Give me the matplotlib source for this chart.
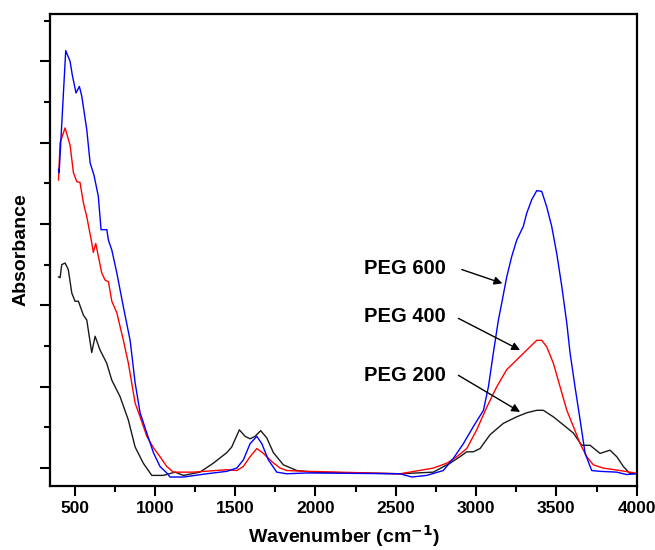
import matplotlib
matplotlib.use("Agg")
import matplotlib.pyplot as plt
from matplotlib.ticker import MultipleLocator

plt.rcParams['font.family'] = ['Liberation Sans', 'DejaVu Sans']

# PEG 200 (black)
x_peg200 = [400, 410, 420, 441, 461, 483, 503, 524, 555, 576, 607, 628, 659, 700, 732, 783,
            835, 877, 928, 981, 1053, 1126, 1178, 1281, 1364, 1448, 1479, 1526, 1562, 1593,
            1624, 1659, 1697, 1738, 1800, 1884, 1985, 2527, 2734, 2838, 2900, 2942, 2983,
            3025, 3087, 3170, 3253, 3316, 3378, 3419, 3481, 3544, 3606, 3658, 3710, 3772,
            3834, 3876, 3917, 3959, 3990]
y_peg200 = [2.35, 2.34, 2.50, 2.52, 2.44, 2.15, 2.05, 2.05, 1.88, 1.82, 1.42, 1.62, 1.45,
            1.29, 1.08, 0.88, 0.59, 0.26, 0.06, -0.09, -0.09, -0.05, -0.09, -0.05, 0.06,
            0.19, 0.26, 0.47, 0.39, 0.36, 0.39, 0.46, 0.37, 0.19, 0.04, -0.03, -0.05,
            -0.07, -0.05, 0.06, 0.14, 0.20, 0.20, 0.24, 0.41, 0.55, 0.63, 0.68, 0.71,
            0.71, 0.63, 0.53, 0.43, 0.28, 0.28, 0.18, 0.22, 0.14, 0.02, -0.07, -0.07]

# PEG 400 (red)
x_peg400 = [400, 410, 441, 472, 493, 514, 534, 555, 576, 607, 617, 632, 669, 690, 711, 732,
            763, 804, 835, 877, 908, 950, 991, 1032, 1074, 1115, 1240, 1448, 1510, 1551,
            1593, 1635, 1676, 1728, 1780, 1821, 1946, 2527, 2734, 2818, 2880, 2942, 3004,
            3067, 3129, 3191, 3274, 3336, 3378, 3409, 3440, 3481, 3523, 3565, 3606, 3648,
            3689, 3730, 3792, 3896, 3990]
y_peg400 = [3.54, 4.00, 4.18, 3.97, 3.63, 3.52, 3.51, 3.26, 3.09, 2.77, 2.65, 2.76, 2.40,
            2.31, 2.29, 2.05, 1.91, 1.57, 1.29, 0.80, 0.63, 0.39, 0.25, 0.14, 0.02, -0.05,
            -0.05, -0.02, -0.03, 0.02, 0.14, 0.24, 0.18, 0.08, 0.00, -0.03, -0.04, -0.07,
            0.00, 0.06, 0.14, 0.24, 0.47, 0.75, 1.00, 1.21, 1.37, 1.49, 1.57, 1.57, 1.49,
            1.29, 1.00, 0.71, 0.51, 0.30, 0.14, 0.04, 0.00, -0.03, -0.06]

# PEG 600 (blue)
x_peg600 = [400, 404, 445, 472, 486, 509, 530, 545, 576, 597, 621, 648, 665, 701, 711, 732,
            763, 804, 846, 877, 908, 950, 991, 1032, 1074, 1095, 1178, 1323, 1448, 1510,
            1551, 1593, 1635, 1666, 1707, 1759, 1821, 1946, 2527, 2600, 2693, 2796, 2859,
            2921, 2983, 3046, 3077, 3108, 3139, 3160, 3191, 3222, 3253, 3294, 3315, 3347,
            3378, 3409, 3440, 3471, 3502, 3534, 3565, 3585, 3616, 3648, 3679, 3720, 3772,
            3876, 3938, 3990]
y_peg600 = [3.67, 3.63, 5.13, 5.00, 4.83, 4.61, 4.69, 4.57, 4.16, 3.75, 3.60, 3.34, 2.93,
            2.93, 2.80, 2.68, 2.40, 1.98, 1.57, 1.05, 0.68, 0.43, 0.19, 0.02, -0.06, -0.11,
            -0.11, -0.07, -0.04, 0.00, 0.10, 0.30, 0.39, 0.30, 0.10, -0.05, -0.07, -0.06,
            -0.07, -0.11, -0.09, -0.03, 0.12, 0.30, 0.51, 0.71, 1.00, 1.42, 1.82, 2.03, 2.35,
            2.60, 2.80, 2.97, 3.13, 3.30, 3.41, 3.40, 3.21, 2.97, 2.64, 2.23, 1.78, 1.42,
            1.00, 0.59, 0.18, -0.03, -0.04, -0.05, -0.08, -0.07]

labels = ["PEG 600", "PEG 400", "PEG 200"]
label_text_xy = [(2300, 2.45), (2300, 1.86), (2300, 1.14)]
label_tail_xy = [(2911, 2.44), (2890, 1.84), (2890, 1.14)]
label_tip_xy = [(3164, 2.27), (3274, 1.45), (3274, 0.69)]

fig = plt.figure(figsize=(6.55, 5.5), dpi=100)
ax = fig.add_axes([0.0763, 0.1164, 0.8962, 0.8581])

ax.plot(x_peg200, y_peg200, color='#1a1a1a', lw=1.0)
ax.plot(x_peg400, y_peg400, color='#ff0000', lw=1.0)
ax.plot(x_peg600, y_peg600, color='#0000ff', lw=1.0)

for lab, txy, tail, tip in zip(labels, label_text_xy, label_tail_xy, label_tip_xy):
    ax.text(txy[0], txy[1], lab, fontsize=14.5, fontweight='bold', va='center', ha='left')
    ax.annotate('', xy=tip, xytext=tail,
                arrowprops=dict(arrowstyle='-|>', color='black', lw=1.0,
                                mutation_scale=12, shrinkA=0, shrinkB=0))

ax.set_xlim(347, 4002)
ax.set_ylim(-0.22, 5.58)
ax.xaxis.set_major_locator(MultipleLocator(500))
ax.xaxis.set_minor_locator(MultipleLocator(250))
ax.yaxis.set_major_locator(MultipleLocator(1))
ax.yaxis.set_minor_locator(MultipleLocator(0.5))
ax.set_yticklabels([])
ax.tick_params(axis='both', which='major', length=7, width=1.5, direction='out')
ax.tick_params(axis='both', which='minor', length=4, width=1.5, direction='out')
ax.tick_params(axis='x', labelsize=12.5, pad=4)
for lbl in ax.get_xticklabels():
    lbl.set_fontweight('bold')
for s in ax.spines.values():
    s.set_linewidth(1.6)

ax.set_xlabel('Wavenumber (cm$^{\\mathbf{-1}}$)', fontsize=14, fontweight='bold', labelpad=5)
ax.set_ylabel('Absorbance', fontsize=14, fontweight='bold', labelpad=4)

fig.savefig('out.png', dpi=100)
